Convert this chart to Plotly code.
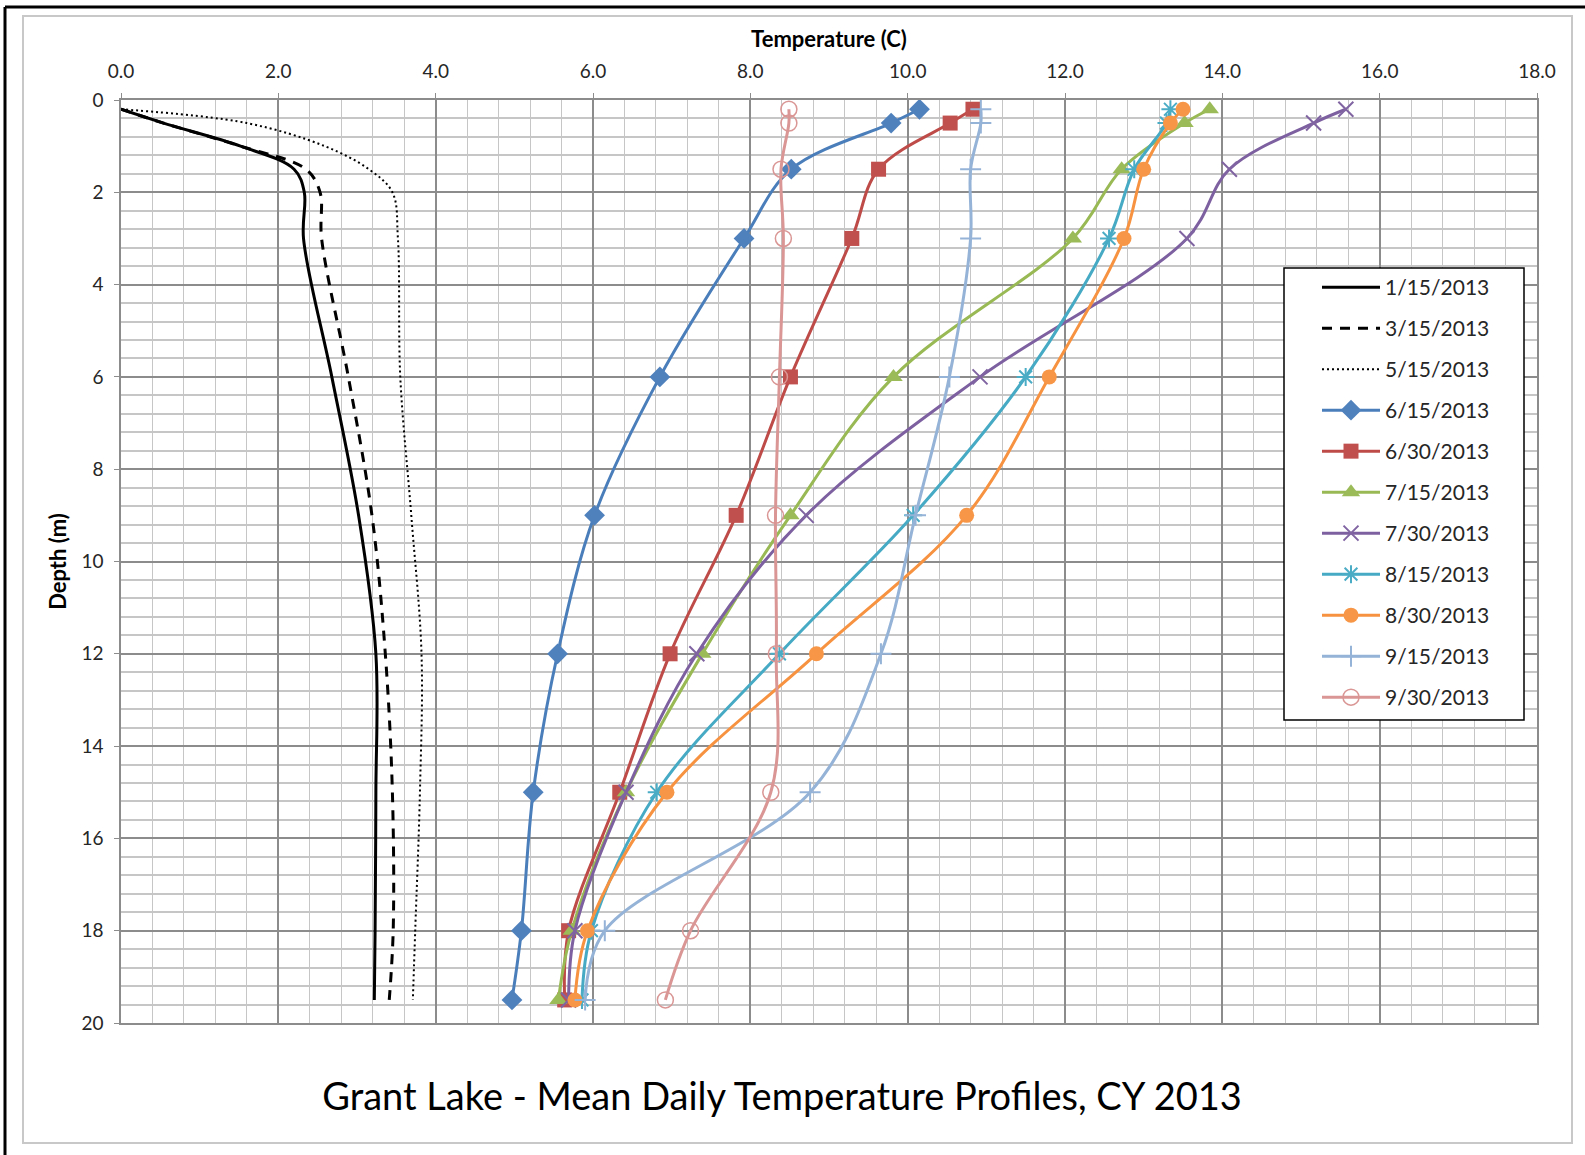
import plotly.graph_objects as go

# ---------------- data ----------------
depth_winter = [0.2, 0.5, 1.0, 1.5, 2.0, 3.0, 6.0, 9.0, 12.0, 15.0, 18.0, 19.5]
t_0115 = [0.00, 0.54, 1.52, 2.20, 2.33, 2.32, 2.68, 3.02, 3.24, 3.24, 3.23, 3.22]
t_0315 = [0.00, 0.54, 1.52, 2.35, 2.53, 2.55, 2.89, 3.19, 3.36, 3.45, 3.46, 3.41]
t_0515 = [0.00, 1.60, 2.59, 3.15, 3.45, 3.52, 3.55, 3.69, 3.82, 3.80, 3.74, 3.71]

depth_summer = [0.2, 0.5, 1.5, 3.0, 6.0, 9.0, 12.0, 15.0, 18.0, 19.5]
t_0615 = [10.15, 9.79, 8.52, 7.92, 6.85, 6.02, 5.55, 5.24, 5.09, 4.97]
t_0630 = [10.83, 10.54, 9.63, 9.29, 8.51, 7.82, 6.98, 6.34, 5.69, 5.64]
t_0715 = [13.84, 13.52, 12.72, 12.10, 9.82, 8.51, 7.39, 6.42, 5.73, 5.56]
t_0730 = [15.57, 15.16, 14.09, 13.55, 10.92, 8.71, 7.32, 6.42, 5.77, 5.69]
t_0815 = [13.34, 13.29, 12.88, 12.56, 11.50, 10.07, 8.37, 6.81, 5.98, 5.86]
t_0830 = [13.50, 13.34, 13.00, 12.75, 11.80, 10.75, 8.84, 6.94, 5.93, 5.77]
t_0915 = [10.93, 10.93, 10.80, 10.80, 10.53, 10.10, 9.66, 8.76, 6.15, 5.90]
t_0930 = [8.49, 8.49, 8.39, 8.42, 8.37, 8.32, 8.33, 8.26, 7.24, 6.92]

x_ticks = [0, 2, 4, 6, 8, 10, 12, 14, 16, 18]
y_ticks = [0, 2, 4, 6, 8, 10, 12, 14, 16, 18, 20]

FONT = "Lato"
TXT = "#262626"

fig = go.Figure()

winter = [
    ("1/15/2013", t_0115, "solid", 3),
    ("3/15/2013", t_0315, "10px,8px", 3),
    ("5/15/2013", t_0515, "2px,3px", 2),
]
for name, vals, dash, w in winter:
    fig.add_trace(go.Scatter(
        x=vals, y=depth_winter, name=name, legendgroup=name, mode="lines",
        line=dict(color="black", width=w, dash=dash, shape="spline", smoothing=1.0),
    ))

summer = [
    ("6/15/2013", t_0615, "#4A7EBB", "#4F81BD", "diamond", 16, None),
    ("6/30/2013", t_0630, "#BE4B48", "#C0504D", "square", 15, None),
    ("7/15/2013", t_0715, "#98B954", "#9BBB59", "triangle-up", 16, None),
    ("7/30/2013", t_0730, "#7D60A0", "#8064A2", "x-thin", 15, 2),
    ("8/15/2013", t_0815, "#46AAC5", "#4BACC6", "asterisk", 15, 2),
    ("8/30/2013", t_0830, "#F69240", "#F79646", "circle", 15, None),
    ("9/15/2013", t_0915, "#95B3D7", "#95B3D7", "cross-thin", 15, 2),
    ("9/30/2013", t_0930, "#D99694", "#D99694", "circle-open", 16, 1.5),
]
for name, vals, lc, mc, sym, size, mlw in summer:
    marker = dict(symbol=sym, size=size, color=mc)
    if mlw is not None:
        marker["line"] = dict(color=mc, width=mlw)
    else:
        marker["line"] = dict(width=0)
    fig.add_trace(go.Scatter(
        x=vals, y=depth_summer, name=name, legendgroup=name, mode="lines+markers",
        line=dict(color=lc, width=3, shape="spline", smoothing=1.0),
        marker=marker,
    ))

# plot area in pixels
L, R, T, B = 121, 1537, 100, 1023
W, H = 1585, 1155


def px(x):
    return (x - L) / (R - L)


def py(y):
    return (B - y) / (B - T)


shapes = [
    # light gray chart-area border
    dict(type="rect", xref="paper", yref="paper", x0=px(23), x1=px(1572), y0=py(16), y1=py(1143),
         line=dict(color="#C8C8C8", width=2), fillcolor="rgba(0,0,0,0)", layer="below"),
    # black outer frame (top and left)
    dict(type="line", xref="paper", yref="paper", x0=px(5), x1=px(1590), y0=py(7), y1=py(7),
         line=dict(color="black", width=3)),
    dict(type="line", xref="paper", yref="paper", x0=px(5), x1=px(5), y0=py(7), y1=py(1160),
         line=dict(color="black", width=3)),
    # legend box
    dict(type="rect", xref="paper", yref="paper", x0=px(1284), x1=px(1524), y0=py(268), y1=py(720),
         line=dict(color="black", width=1.5), fillcolor="white", layer="above"),
]

fig.update_layout(
    width=W, height=H,
    margin=dict(l=L, r=W - R, t=T, b=H - B, autoexpand=False),
    paper_bgcolor="white", plot_bgcolor="white",
    font=dict(family=FONT, color=TXT),
    title=dict(text="Grant Lake - Mean Daily Temperature Profiles, CY 2013",
               font=dict(family=FONT, size=38, color="black"),
               xref="container", x=782 / W, xanchor="center",
               yref="container", y=1 - 1097 / H, yanchor="middle"),
    xaxis=dict(
        range=[0, 18], side="top", tickvals=x_ticks, tickformat=".1f",
        showgrid=True, gridcolor="#8C8C8C", gridwidth=1.5,
        minor=dict(dtick=0.4, showgrid=True, gridcolor="#C6C6C6", gridwidth=1.2),
        ticks="outside", ticklen=5, tickcolor="#8C8C8C",
        showline=True, linecolor="#8C8C8C", linewidth=1.5, mirror=True, zeroline=False,
        tickfont=dict(size=19, color=TXT), ticklabelstandoff=8, automargin=False,
        title=dict(text="<b>Temperature (C)</b>", font=dict(size=22, color="black"), standoff=5),
    ),
    yaxis=dict(
        range=[20, 0], tickvals=y_ticks,
        showgrid=True, gridcolor="#8C8C8C", gridwidth=1.5,
        minor=dict(dtick=0.4, showgrid=True, gridcolor="#C6C6C6", gridwidth=1.5),
        ticks="outside", ticklen=5, tickcolor="#8C8C8C",
        showline=True, linecolor="#8C8C8C", linewidth=1.5, mirror=True, zeroline=False,
        tickfont=dict(size=19, color=TXT), ticklabelstandoff=7, automargin=False,
        title=dict(text="<b>Depth (m)</b>", font=dict(size=22, color="black"), standoff=9),
    ),
    legend=dict(
        x=px(1317), xanchor="left", y=py(267), yanchor="top",
        bgcolor="rgba(0,0,0,0)", borderwidth=0,
        font=dict(family=FONT, size=21, color=TXT),
        traceorder="grouped", tracegroupgap=10.7, itemwidth=58,
    ),
    shapes=shapes,
)

fig.write_html(
    "out.html",
    config={"displayModeBar": False},
    post_script="document.body.style.margin='0';document.body.style.overflow='hidden';",
)
